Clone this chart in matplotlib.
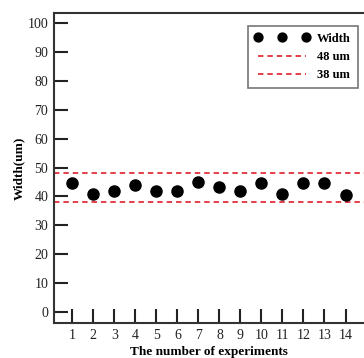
import matplotlib
matplotlib.use("Agg")
import matplotlib.pyplot as plt

# data
experiments = list(range(1, 15))
widths = [44.6, 40.9, 41.7, 43.8, 41.9, 41.9, 44.9, 43.1, 41.7, 44.6, 40.9, 44.6, 44.6, 40.3]
upper_limit = 48
lower_limit = 38

plt.rcParams['font.family'] = ['Liberation Serif', 'DejaVu Serif']

fig = plt.figure(figsize=(3.64, 3.58), dpi=100)
ax = fig.add_axes([0.148, 0.097, 0.852, 0.867])

ax.plot(experiments, widths, 'o', ms=8, color='black', zorder=3, label='Width')
ax.axhline(upper_limit, color='#e0303a', ls=(0, (3, 2.2)), lw=1.3, label='48 um')
ax.axhline(lower_limit, color='#e0303a', ls=(0, (3, 2.2)), lw=1.3, label='38 um')

ax.set_xlim(0.12, 14.88)
ax.set_ylim(-4, 103.6)
ax.set_xticks(experiments)
ax.set_yticks(range(0, 101, 10))
ax.tick_params(direction='in', length=10, width=1.5, labelsize=10, pad=4, colors='#222222')
ax.spines['right'].set_visible(False)
for s in ['left', 'top', 'bottom']:
    ax.spines[s].set_linewidth(1.5)
    ax.spines[s].set_color('#333333')

ax.set_xlabel('The number of experiments', fontsize=9.5, fontweight='bold', labelpad=3)
ax.set_ylabel('Width(um)', fontsize=9.5, fontweight='bold', labelpad=2)

leg = ax.legend(loc='upper right', bbox_to_anchor=(0.98, 0.958), borderaxespad=0,
                numpoints=3, markerscale=0.8, prop={'weight': 'bold', 'size': 9},
                frameon=True, fancybox=False, edgecolor='#555555', handlelength=4.4,
                borderpad=0.55, labelspacing=0.5, handletextpad=0.6)
leg.get_frame().set_linewidth(1.2)

fig.savefig('out.png', dpi=100)
